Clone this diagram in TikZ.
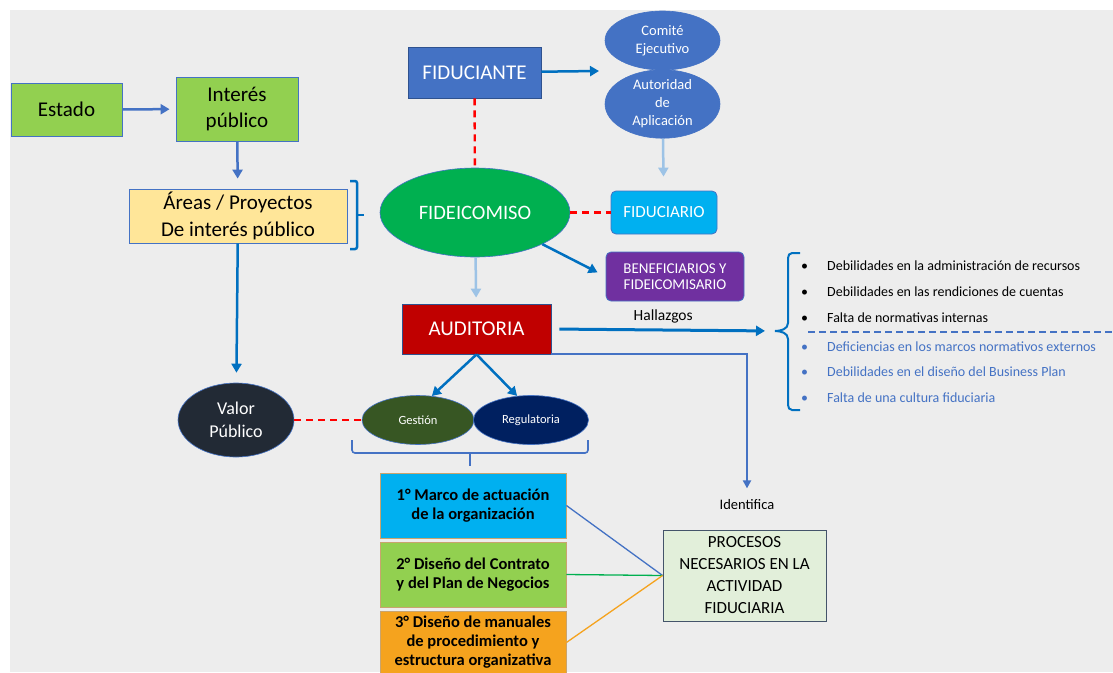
\documentclass[tikz,border=0pt]{standalone}
\usepackage{fontspec}
\setmainfont{Carlito}
\usepackage{xcolor}
\usetikzlibrary{shapes.geometric,arrows.meta}

\definecolor{bggray}{HTML}{EDEDED}
\definecolor{limegreen}{HTML}{92D050}
\definecolor{sandy}{HTML}{FFE699}
\definecolor{edgeblue}{HTML}{4472C4}
\definecolor{darkedge}{HTML}{2F528F}
\definecolor{strongblue}{HTML}{0070C0}
\definecolor{paleblue}{HTML}{9DC3E6}
\definecolor{fidgreen}{HTML}{00B050}
\definecolor{skyblue}{HTML}{00B0F0}
\definecolor{purple}{HTML}{7030A0}
\definecolor{auditred}{HTML}{C00000}
\definecolor{nightgray}{HTML}{222A35}
\definecolor{olivegreen}{HTML}{375623}
\definecolor{navy}{HTML}{002060}
\definecolor{orangebox}{HTML}{F5A31E}
\definecolor{tanedge}{HTML}{C9A46E}
\definecolor{mintbox}{HTML}{E2EFDA}
\definecolor{slateedge}{HTML}{44546A}

\begin{document}
\begin{tikzpicture}[x=1pt,y=-1pt,
  box/.style={draw=edgeblue,line width=0.8pt,inner sep=0pt,align=center},
  oval/.style={ellipse,draw=edgeblue,line width=0.6pt,inner sep=0pt,align=center,text=white},
  step box/.style={box,draw=tanedge,minimum width=186pt,font=\bfseries\fontsize{16.5}{19}\selectfont},
  blue arrow/.style={line width=2.5pt,-{Triangle[length=9pt,width=10pt]}},
  red link/.style={red,line width=2.4pt,dash pattern=on 7pt off 5pt},
  item/.style={anchor=west,inner sep=0pt,font=\fontsize{14}{16}\selectfont}]
\useasboundingbox (0,0) rectangle (1113,672);
\fill[bggray] (10,10) rectangle (1113,672);

% left column
\node[box,fill=limegreen,minimum width=111pt,minimum height=53pt,font=\fontsize{21}{26}\selectfont] (estado) at (66.5,109.5) {Estado};
\node[box,fill=limegreen,minimum width=122pt,minimum height=64pt,font=\fontsize{21}{26}\selectfont] (interes) at (237,109) {Interés\\público};
\node[box,fill=sandy,minimum width=218pt,minimum height=54pt,font=\fontsize{21}{27}\selectfont] (areas) at (238,216) {Áreas / Proyectos\\De interés público};
\node[oval,fill=nightgray,minimum width=116pt,minimum height=74pt,font=\fontsize{18}{23}\selectfont] (valor) at (236,420) {Valor\\Público};

\draw[blue arrow,edgeblue,shorten >=6pt] (estado) -- (interes);
\draw[blue arrow,edgeblue,shorten >=10pt] (interes) -- (areas);
\draw[blue arrow,strongblue,shorten >=10pt] (areas) -- (valor);
\draw[strongblue,line width=2.5pt,rounded corners=2pt] (350,181) -- (357,181) -- (357,249) -- (350,249);
\draw[strongblue,line width=2.5pt] (357,215) -- (364,215);

% trust and parties
\node[box,draw=darkedge,fill=edgeblue,text=white,minimum width=133pt,minimum height=51pt,font=\fontsize{21}{24}\selectfont] (fiduciante) at (474.5,72.5) {FIDUCIANTE};
\node[oval,fill=edgeblue,minimum width=115pt,minimum height=59pt,font=\fontsize{14.5}{18}\selectfont] (comite) at (662.5,40.5) {Comité\\Ejecutivo};
\node[oval,fill=edgeblue,minimum width=115pt,minimum height=56pt,font=\fontsize{14.5}{18}\selectfont] (autoridad) at (662.5,104) {Autoridad\\de\\Aplicación};
\node[oval,fill=fidgreen,minimum width=190pt,minimum height=89pt,font=\fontsize{20.5}{24}\selectfont] (fideicomiso) at (475,212.5) {FIDEICOMISO};
\node[box,fill=skyblue,text=white,rounded corners=5pt,minimum width=106pt,minimum height=43pt,font=\fontsize{17}{19}\selectfont] (fiduciario) at (664,212.5) {FIDUCIARIO};
\node[box,fill=purple,text=white,rounded corners=5pt,minimum width=138pt,minimum height=49pt,font=\fontsize{15}{16}\selectfont] (benef) at (675,276.5) {BENEFICIARIOS Y\\FIDEICOMISARIO};
\coordinate (fidtip) at (599,71);

\draw[blue arrow,strongblue] (fiduciante) -- (fidtip);
\draw[blue arrow,paleblue,shorten >=14pt] (autoridad) -- (fiduciario);
\draw[red link] (fiduciante) -- (fideicomiso);
\draw[red link] (fideicomiso) -- (fiduciario);
\draw[blue arrow,strongblue,shorten >=9pt] (fideicomiso.south east) -- (benef.west);

% audit
\node[box,draw=darkedge,fill=auditred,text=white,minimum width=149pt,minimum height=50pt,font=\fontsize{21}{24}\selectfont] (audit) at (476.5,329) {AUDITORIA};
\node[oval,fill=olivegreen,minimum width=112pt,minimum height=49pt,font=\fontsize{12.5}{14}\selectfont] (gestion) at (418,420) {Gestión};
\node[oval,fill=navy,minimum width=115pt,minimum height=49pt,font=\fontsize{12.5}{14}\selectfont] (regul) at (531,420) {Regulatoria};
\coordinate (hbrace) at (775,331);

\draw[blue arrow,paleblue,shorten >=6pt] (fideicomiso) -- (audit);
\draw[blue arrow,strongblue] (audit.south) -- (gestion.60);
\draw[blue arrow,strongblue] (audit.south) -- (regul.120);
\draw[red link] (valor) -- (gestion);
\draw[edgeblue,line width=1.6pt,rounded corners=3pt] (352,440) -- (352,453) -- (588,453) -- (588,440);
\draw[edgeblue,line width=1.6pt] (470,453) -- (470,466);
\draw[blue arrow,strongblue,line width=3pt,shorten <=8pt,shorten >=10pt] (audit.east) -- node[above=2pt,black,font=\fontsize{15.5}{18}\selectfont] {Hallazgos} (hbrace);

% findings
\draw[strongblue,line width=2pt] (800,253) -- (792,253) to[out=180,in=90] (788,258) -- (788,323) to[out=270,in=0] (775,331) to[out=0,in=90] (788,339) -- (788,405) to[out=270,in=180] (792,410) -- (800,410);
\node[item] (d1) at (801,266) {\makebox[26pt][l]{\textbullet}Debilidades en la administración de recursos};
\node[item] (d2) at (801,292) {\makebox[26pt][l]{\textbullet}Debilidades en las rendiciones de cuentas};
\node[item] (d3) at (801,318) {\makebox[26pt][l]{\textbullet}Falta de normativas internas};
\draw[edgeblue,line width=2.2pt,dash pattern=on 7pt off 4pt] (808,332) -- (1113,332);
\node[item,edgeblue] (d4) at (801,347) {\makebox[26pt][l]{\textbullet}Deficiencias en los marcos normativos externos};
\node[item,edgeblue] (d5) at (801,372) {\makebox[26pt][l]{\textbullet}Debilidades en el diseño del Business Plan};
\node[item,edgeblue] (d6) at (801,398) {\makebox[26pt][l]{\textbullet}Falta de una cultura fiduciaria};

% processes
\node[step box,fill=skyblue,minimum height=65pt] (marco1) at (473,505.5) {1° Marco de actuación\\de la organización};
\node[step box,fill=limegreen,minimum height=65pt] (marco2) at (473,574.5) {2° Diseño del Contrato\\y del Plan de Negocios};
\node[step box,fill=orangebox,minimum height=63pt] (marco3) at (473,642.5) {3° Diseño de manuales\\de procedimiento y\\estructura organizativa};
\node[box,draw=slateedge,fill=mintbox,minimum width=163pt,minimum height=91pt,font=\fontsize{17}{22}\selectfont] (procesos) at (744.5,575.5) {PROCESOS\\NECESARIOS EN LA\\ACTIVIDAD\\FIDUCIARIA};
\node[font=\fontsize{14.5}{17}\selectfont] (identif) at (747,505) {Identifica};

\draw[edgeblue,line width=2pt,-{Triangle[length=8pt,width=8pt]},shorten >=8pt] (audit.south east) -| (identif.north);
\draw[edgeblue,line width=1.3pt] (marco1.east) -- (procesos.west);
\draw[fidgreen,line width=1.3pt] (marco2.east) -- (procesos.west);
\draw[orangebox,line width=1.3pt] (marco3.east) -- (procesos.west);
\end{tikzpicture}
\end{document}
